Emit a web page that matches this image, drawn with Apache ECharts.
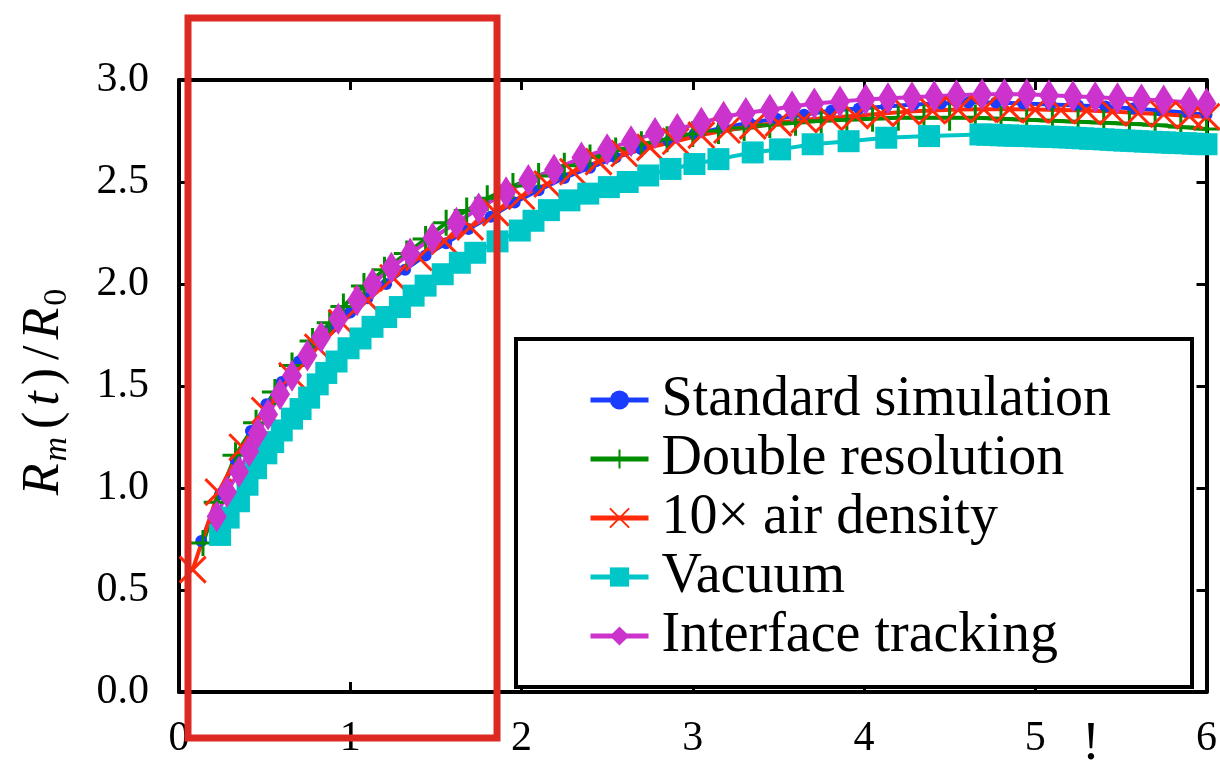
<!DOCTYPE html>
<html>
<head>
<meta charset="utf-8">
<script src="https://cdn.jsdelivr.net/npm/echarts@6/dist/echarts.min.js"></script>
<style>
  html, body { margin: 0; padding: 0; background: #fff; }
  #chart { width: 1220px; height: 760px; }
</style>
</head>
<body>
<div id="chart"></div>
<script>
// Normalised bubble radius R_m(t)/R_0 against time t for five runs

const xTicks = [0, 1, 2, 3, 4, 5, 6];
const yTicks = [0.0, 0.5, 1.0, 1.5, 2.0, 2.5, 3.0];

// Standard simulation
const stdT = [0.13, 0.24, 0.33, 0.42, 0.51, 0.60, 0.70, 0.80, 0.90, 1.00, 1.10, 1.21, 1.32, 1.44, 1.56, 1.69, 1.82, 1.96, 2.10, 2.25, 2.40, 2.55, 2.70, 2.86, 3.01, 3.17, 3.33, 3.49, 3.65, 3.81, 3.97, 4.13, 4.29, 4.45, 4.61, 4.77, 4.93, 5.09, 5.25, 5.41, 5.57, 5.73, 5.89, 6.00];
const stdR = [0.74, 0.97, 1.14, 1.28, 1.41, 1.52, 1.62, 1.71, 1.79, 1.86, 1.93, 2.00, 2.07, 2.14, 2.20, 2.27, 2.33, 2.40, 2.46, 2.52, 2.57, 2.62, 2.66, 2.70, 2.735, 2.765, 2.79, 2.81, 2.83, 2.85, 2.86, 2.87, 2.88, 2.885, 2.89, 2.89, 2.885, 2.88, 2.875, 2.87, 2.86, 2.85, 2.84, 2.83];

// Double resolution
const dblT = [0.14, 0.22, 0.33, 0.45, 0.56, 0.66, 0.78, 0.88, 0.96, 1.08, 1.20, 1.33, 1.44, 1.56, 1.68, 1.80, 1.95, 2.10, 2.25, 2.40, 2.55, 2.70, 2.85, 3.00, 3.15, 3.30, 3.45, 3.60, 3.75, 3.90, 4.05, 4.20, 4.35, 4.50, 4.65, 4.80, 4.95, 5.10, 5.25, 5.40, 5.55, 5.70, 5.85, 6.00];
const dblR = [0.73, 0.93, 1.16, 1.32, 1.47, 1.60, 1.72, 1.81, 1.89, 1.99, 2.07, 2.15, 2.22, 2.30, 2.36, 2.42, 2.48, 2.53, 2.58, 2.62, 2.655, 2.685, 2.71, 2.735, 2.75, 2.765, 2.78, 2.79, 2.80, 2.805, 2.81, 2.815, 2.815, 2.815, 2.815, 2.81, 2.805, 2.80, 2.795, 2.79, 2.785, 2.78, 2.77, 2.76];

// 10x air density
const airT = [0.08, 0.23, 0.37, 0.50, 0.66, 0.81, 0.95, 1.10, 1.25, 1.40, 1.55, 1.70, 1.85, 2.00, 2.15, 2.30, 2.45, 2.60, 2.75, 2.90, 3.05, 3.20, 3.35, 3.50, 3.65, 3.80, 3.95, 4.10, 4.25, 4.40, 4.55, 4.70, 4.85, 5.00, 5.15, 5.30, 5.45, 5.60, 5.75, 5.90, 6.00];
const airR = [0.60, 0.98, 1.20, 1.38, 1.55, 1.69, 1.81, 1.92, 2.03, 2.13, 2.21, 2.28, 2.35, 2.43, 2.49, 2.55, 2.60, 2.64, 2.67, 2.70, 2.73, 2.755, 2.775, 2.79, 2.805, 2.815, 2.825, 2.835, 2.845, 2.85, 2.855, 2.857, 2.857, 2.855, 2.853, 2.85, 2.845, 2.838, 2.832, 2.824, 2.82];

// Vacuum
const vacT = [0.24, 0.29, 0.35, 0.40, 0.45, 0.51, 0.55, 0.60, 0.66, 0.71, 0.76, 0.81, 0.86, 0.92, 0.99, 1.06, 1.13, 1.21, 1.29, 1.37, 1.44, 1.54, 1.64, 1.73, 1.86, 1.99, 2.07, 2.16, 2.28, 2.39, 2.51, 2.62, 2.74, 2.87, 3.01, 3.15, 3.35, 3.51, 3.70, 3.91, 4.13, 4.38, 4.68, 4.72, 4.76, 4.80, 4.84, 4.88, 4.92, 4.96, 5.00, 5.04, 5.08, 5.12, 5.16, 5.20, 5.24, 5.28, 5.32, 5.36, 5.40, 5.44, 5.48, 5.52, 5.56, 5.60, 5.64, 5.68, 5.72, 5.76, 5.80, 5.84, 5.88, 5.92, 5.96, 6.00];
const vacR = [0.77, 0.855, 0.935, 1.016, 1.097, 1.17, 1.225, 1.282, 1.34, 1.387, 1.443, 1.508, 1.564, 1.62, 1.685, 1.733, 1.79, 1.838, 1.887, 1.943, 1.992, 2.048, 2.104, 2.153, 2.209, 2.262, 2.31, 2.362, 2.41, 2.443, 2.475, 2.50, 2.532, 2.564, 2.588, 2.612, 2.645, 2.66, 2.685, 2.70, 2.717, 2.725, 2.733, 2.732, 2.731, 2.729, 2.728, 2.727, 2.726, 2.725, 2.724, 2.723, 2.722, 2.721, 2.719, 2.718, 2.716, 2.714, 2.712, 2.711, 2.709, 2.707, 2.705, 2.703, 2.702, 2.700, 2.698, 2.697, 2.695, 2.694, 2.692, 2.691, 2.690, 2.688, 2.686, 2.685];

// Interface tracking
const itfT = [0.22, 0.28, 0.35, 0.41, 0.46, 0.52, 0.59, 0.66, 0.75, 0.83, 0.93, 1.04, 1.13, 1.24, 1.35, 1.48, 1.62, 1.75, 1.91, 2.04, 2.19, 2.35, 2.50, 2.64, 2.78, 2.91, 3.05, 3.18, 3.31, 3.45, 3.58, 3.71, 3.86, 4.01, 4.14, 4.28, 4.41, 4.54, 4.69, 4.82, 4.95, 5.08, 5.22, 5.35, 5.48, 5.62, 5.75, 5.90, 6.00];
const itfR = [0.86, 0.98, 1.08, 1.18, 1.27, 1.36, 1.46, 1.55, 1.65, 1.74, 1.83, 1.92, 2.00, 2.08, 2.15, 2.225, 2.30, 2.37, 2.45, 2.51, 2.56, 2.62, 2.66, 2.70, 2.74, 2.76, 2.79, 2.82, 2.838, 2.854, 2.87, 2.885, 2.895, 2.905, 2.91, 2.915, 2.92, 2.925, 2.93, 2.93, 2.93, 2.925, 2.92, 2.915, 2.91, 2.905, 2.90, 2.89, 2.885];

const names = ['Standard simulation', 'Double resolution', '10\u00d7 air density', 'Vacuum', 'Interface tracking'];

const zip = (a, b) => a.map((v, i) => [v, b[i]]);

const plusPath = 'path://M10,0L10,20M0,10L20,10';
const crossPath = 'path://M0,0L20,20M20,0L0,20';

function lineSeries(name, t, r, color, symbol, size, hollow) {
  return {
    name: name,
    type: 'line',
    data: zip(t, r),
    symbol: symbol,
    symbolSize: size,
    showSymbol: true,
    showAllSymbol: true,
    smooth: false,
    clip: true,
    animation: false,
    z: 2,
    lineStyle: { color: color, width: 4 },
    itemStyle: hollow
      ? { color: color, borderColor: color, borderWidth: 3 }
      : { color: color, borderWidth: 0 },
    emphasis: { disabled: true }
  };
}

const series = [
  lineSeries(names[0], stdT, stdR, '#1a3cff', 'circle', 12, false),
  lineSeries(names[1], dblT, dblR, '#008c00', plusPath, 26, true),
  lineSeries(names[2], airT, airR, '#ff2a0a', crossPath, 26, true),
  lineSeries(names[3], vacT, vacR, '#00c6c8', 'rect', 22, false),
  lineSeries(names[4], itfT, itfR, '#cc33cc', 'diamond', [20, 32], false)
];

const serif = "'Liberation Serif', 'DejaVu Serif', serif";
const tickFont = { fontFamily: serif, fontSize: 42, color: '#000' };
const frameLine = { show: true, onZero: false, lineStyle: { color: '#000', width: 4 } };
const tickIn = { show: true, inside: true, length: 10, lineStyle: { color: '#000', width: 3 } };

const chart = echarts.init(document.getElementById('chart'), null, { renderer: 'canvas' });

chart.setOption({
  animation: false,
  backgroundColor: '#fff',
  grid: { left: 179, right: 9, top: 80, bottom: 60, containLabel: false },
  xAxis: [
    {
      type: 'value', min: xTicks[0], max: xTicks[xTicks.length - 1], interval: 1,
      axisLine: frameLine, axisTick: tickIn, splitLine: { show: false },
      axisLabel: Object.assign({ margin: 26, formatter: v => String(v) }, tickFont)
    },
    {
      type: 'value', position: 'top', min: xTicks[0], max: xTicks[xTicks.length - 1], interval: 1,
      axisLine: frameLine, axisTick: tickIn, splitLine: { show: false }, axisLabel: { show: false }
    }
  ],
  yAxis: [
    {
      type: 'value', min: yTicks[0], max: yTicks[yTicks.length - 1], interval: 0.5,
      axisLine: frameLine, axisTick: tickIn, splitLine: { show: false },
      axisLabel: Object.assign({ margin: 30, formatter: v => v.toFixed(1) }, tickFont)
    },
    {
      type: 'value', position: 'right', min: yTicks[0], max: yTicks[yTicks.length - 1], interval: 0.5,
      axisLine: frameLine, axisTick: tickIn, splitLine: { show: false }, axisLabel: { show: false }
    }
  ],
  legend: {
    show: true,
    z: 12,
    orient: 'vertical',
    left: 583,
    top: 366,
    itemWidth: 58,
    itemHeight: 24,
    itemGap: 1,
    selectedMode: false,
    data: names,
    lineStyle: { width: 5 },
    textStyle: {
      fontFamily: serif, fontSize: 56, color: '#000',
      lineHeight: 58, padding: [0, 0, 0, 8]
    }
  },
  graphic: [
    {
      type: 'rect', z: 8,
      shape: { x: 516, y: 339, width: 676, height: 348 },
      style: { fill: '#fff', stroke: '#000', lineWidth: 4 }
    },
    {
      type: 'text', z: 5,
      x: 44, y: 393, rotation: Math.PI / 2,
      style: {
        text: '{i|R}{s|m}{n|(}{i|t}{n|)}{n|/}{i|R}{z|0}',
        align: 'center', verticalAlign: 'middle',
        rich: {
          i: { fontFamily: serif, fontStyle: 'italic', fontSize: 52, lineHeight: 60, verticalAlign: 'middle', padding: [0, 2, 0, 2] },
          n: { fontFamily: serif, fontSize: 52, lineHeight: 60, verticalAlign: 'middle', padding: [0, 4, 0, 4] },
          s: { fontFamily: serif, fontStyle: 'italic', fontSize: 34, lineHeight: 26, verticalAlign: 'bottom', padding: [0, 4, 0, 0] },
          z: { fontFamily: serif, fontSize: 34, lineHeight: 26, verticalAlign: 'bottom' }
        },
        fill: '#000'
      }
    },
    {
      type: 'text', z: 10,
      x: 1091, y: 745,
      style: { text: '!', fontFamily: serif, fontSize: 54, fill: '#000', align: 'center', verticalAlign: 'middle' }
    },
    {
      type: 'rect', z: 20,
      shape: { x: 188, y: 18, width: 309, height: 720 },
      style: { fill: 'none', stroke: '#dc2a22', lineWidth: 7 }
    }
  ],
  series: series
});
</script>
</body>
</html>
